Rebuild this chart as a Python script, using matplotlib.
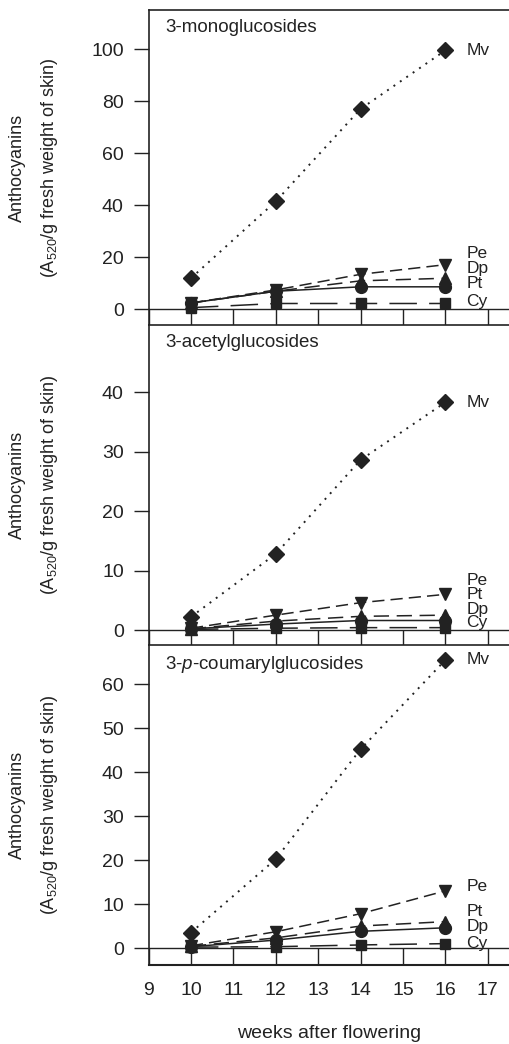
import numpy as np
import matplotlib.pyplot as plt

plt.rcParams['font.family'] = ['Liberation Sans', 'DejaVu Sans']
plt.rcParams['mathtext.fontset'] = 'custom'
plt.rcParams['mathtext.rm'] = 'Liberation Sans'
plt.rcParams['mathtext.it'] = 'Liberation Sans:italic'

# data (weeks after flowering)
weeks = [10, 12, 14, 16]
xticks = [9, 10, 11, 12, 13, 14, 15, 16, 17]

titles = ['3-monoglucosides', '3-acetylglucosides', '3-$\\mathit{p}$-coumarylglucosides']

mv = [[12.0, 41.5, 77.0, 99.5],
      [2.2, 12.8, 28.6, 38.3],
      [3.5, 20.2, 45.2, 65.5]]
pe = [[2.5, 7.5, 13.5, 17.2],
      [0.3, 2.5, 4.6, 6.0],
      [0.5, 3.7, 7.8, 13.0]]
dp = [[2.5, 7.0, 11.0, 12.0],
      [0.2, 1.5, 2.3, 2.5],
      [0.4, 2.3, 5.0, 6.0]]
pt = [[2.5, 7.0, 8.7, 8.7],
      [0.2, 1.0, 1.6, 1.6],
      [0.3, 1.8, 3.8, 4.6]]
cy = [[0.7, 2.3, 2.3, 2.3],
      [0.1, 0.3, 0.4, 0.4],
      [0.2, 0.3, 0.7, 1.0]]

yticks = [[0, 20, 40, 60, 80, 100],
          [0, 10, 20, 30, 40],
          [0, 10, 20, 30, 40, 50, 60]]
ylims = [(-5.96, 115.0), (-2.52, 51.3), (-3.86, 68.9)]

# label order and heights at the right side of each panel
lab_names = [['Mv', 'Pe', 'Dp', 'Pt', 'Cy'],
             ['Mv', 'Pe', 'Pt', 'Dp', 'Cy'],
             ['Mv', 'Pe', 'Pt', 'Dp', 'Cy']]
lab_y = [[99.5, 21.6, 15.8, 10.1, 3.0],
         [38.3, 8.4, 5.9, 3.5, 1.2],
         [65.5, 13.9, 8.3, 4.9, 1.1]]

W, H = 509, 1044
fig = plt.figure(figsize=(W/100, H/100), dpi=100)

# panel edges in pixels (top, bottom)
panels = [(10, 325), (325, 645), (645, 965)]
left = 148.5/W

c = '#222222'
for i in range(3):
    top, bot = panels[i]
    ax = fig.add_axes([left, (H-bot)/H, 1.0-left, (bot-top)/H])
    ax.set_xlim(9, 17.5)
    ax.set_ylim(ylims[i])

    ax.plot(weeks, mv[i], color=c, lw=1.4, ls=(0, (1, 3)), marker='D', ms=8, zorder=5)
    ax.plot(weeks, pe[i], color=c, lw=1.1, ls=(0, (8, 4)), marker='v', ms=8.5, zorder=4)
    ax.plot(weeks, dp[i], color=c, lw=1.1, ls=(0, (10, 5)), marker='^', ms=8.5, zorder=3)
    ax.plot(weeks, pt[i], color=c, lw=1.1, ls='-', marker='o', ms=8.5, zorder=3)
    ax.plot(weeks, cy[i], color=c, lw=1.1, ls=(0, (18, 8)), marker='s', ms=7.5, zorder=3)

    ax.axhline(0, color=c, lw=1.0, zorder=1)
    ax.vlines(xticks, ylims[i][0], 0, color=c, lw=1.0)
    if i == 2:
        ax.axhline(ylims[i][0], color=c, lw=1.5, clip_on=False)

    for s in ['right', 'bottom']:
        ax.spines[s].set_visible(False)
    for s in ['left', 'top']:
        ax.spines[s].set_color(c)
        ax.spines[s].set_linewidth(1.2)

    ax.set_yticks(yticks[i])
    ax.tick_params(axis='y', direction='out', length=10.8, width=1.0, pad=7,
                   labelsize=14, color=c, labelcolor=c)
    ax.set_xticks(xticks)
    if i == 2:
        ax.tick_params(axis='x', length=0, pad=12, labelsize=14, labelcolor=c)
    else:
        ax.tick_params(axis='x', length=0, labelbottom=False)

    ax.text(0.047, 0.972, titles[i], transform=ax.transAxes, fontsize=13.5,
            va='top', ha='left', color=c)
    for name, yy in zip(lab_names[i], lab_y[i]):
        ax.text(16.5, yy, name, fontsize=12.5, va='center', ha='left', color=c)

    yc = (H - (top+bot)/2)/H
    fig.text(17.5/W, yc, 'Anthocyanins', rotation=90, fontsize=13,
             ha='center', va='center', color=c)
    fig.text(50/W, yc, '(A$_{520}$/g fresh weight of skin)', rotation=90,
             fontsize=13, ha='center', va='center', color=c)

fig.text((148.5 + 4.25*42.5)/W, (H-1034)/H, 'weeks after flowering', fontsize=14,
         ha='center', va='center', color=c)

plt.savefig('out.png', dpi=100)
